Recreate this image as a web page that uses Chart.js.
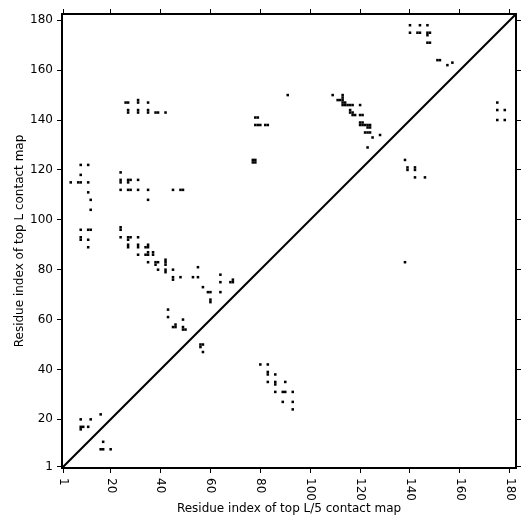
<!DOCTYPE html>
<html>
<head>
<meta charset="utf-8">
<script src="https://cdn.jsdelivr.net/npm/chart.js@4.4.0/dist/chart.umd.min.js"></script>
<style>
  html, body { margin: 0; padding: 0; background: #fff; }
  #wrap { width: 531px; height: 531px; }
</style>
</head>
<body>
<div id="wrap"><canvas id="chart" width="531" height="531"></canvas></div>
<script>
// residue index ticks shown on both axes
const tickValues = [1, 20, 40, 60, 80, 100, 120, 140, 160, 180];
const axisMin = 0.5;
const axisMax = 182.5;

// top L contacts (upper triangle): residue i on x, residue j on y
const topL_i = [
  26, 27, 31, 31, 35, 27, 27, 31, 31, 35, 35, 38, 39, 42,
  8, 11, 8, 4, 7, 8, 11, 11, 12, 12, 8, 11, 12, 8, 8, 11, 11,
  24, 24, 24, 27, 27, 28, 31, 24, 27, 28, 31, 35, 45, 48, 49, 35,
  24, 24, 24, 27, 27, 28, 31, 27, 27, 31, 31, 34, 35, 35,
  31, 34, 35, 35, 37, 37, 35, 38, 38, 39, 42, 42, 42, 42, 42,
  39, 45, 45, 45, 48, 53, 55, 55, 57, 59, 60, 60, 60, 64, 64, 64, 68, 69, 69,
  43, 43, 46, 46, 45, 49, 49, 49, 50,
  8, 12, 16, 8, 8, 9, 11,
  77, 78, 77, 78, 78, 79, 78, 79, 80, 82, 83, 91,
  109, 113, 113, 113, 112, 111, 113, 114, 113, 114, 115, 116, 117, 116, 116, 117, 117, 118,
  120, 120, 121, 120, 121, 120, 121, 122, 123, 124, 123, 124, 122, 123, 124, 125, 128, 123,
  140, 144, 147, 140, 143, 144, 147, 148, 147, 147, 148, 151, 152, 155, 157
];
const topL_j = [
  147, 147, 147, 148, 147, 143, 144, 143, 144, 143, 144, 143, 143, 143,
  122, 122, 118, 115, 115, 115, 115, 111, 108, 104, 96, 96, 96, 92, 93, 92, 89,
  119, 115, 116, 115, 116, 116, 116, 112, 112, 112, 112, 112, 112, 112, 112, 108,
  96, 97, 93, 92, 93, 93, 93, 89, 90, 89, 90, 89, 89, 90,
  86, 86, 86, 87, 86, 87, 83, 82, 83, 83, 82, 83, 84, 79, 80,
  80, 80, 76, 77, 77, 77, 77, 81, 73, 71, 71, 67, 68, 78, 75, 71, 75, 75, 76,
  64, 61, 58, 57, 57, 60, 57, 56, 56,
  20, 20, 22, 16, 17, 17, 17,
  123, 123, 124, 124, 141, 141, 138, 138, 138, 138, 138, 150,
  150, 150, 149, 148, 148, 148, 147, 147, 146, 146, 146, 146, 146, 144, 143, 143, 142, 142,
  146, 142, 142, 139, 139, 138, 138, 138, 138, 138, 137, 137, 135, 135, 135, 133, 134, 129,
  178, 178, 178, 175, 175, 175, 175, 175, 174, 171, 171, 164, 164, 162, 163
];

// top L/5 contacts (lower triangle)
const topL5_i = [
  17, 16, 17, 20,
  56, 57, 56, 57,
  80, 83, 83, 83, 86, 83, 86, 86, 90, 86, 89, 90, 93, 89, 93, 93,
  138, 139, 139, 142, 142, 142, 146, 138,
  175, 175, 178, 175, 178
];
const topL5_j = [
  11, 8, 8, 8,
  50, 50, 49, 47,
  42, 42, 38, 39, 38, 35, 34, 35, 35, 31, 31, 31, 31, 27, 27, 24,
  124, 121, 120, 120, 121, 117, 117, 83,
  147, 144, 144, 140, 140
];

const toPoints = (xs, ys) => xs.map((v, k) => ({ x: v, y: ys[k] }));

const fontFamily = '"DejaVu Sans", sans-serif';

// x tick labels are rotated clockwise, which Chart.js can't do by itself
const xTickLabels = {
  id: 'xTickLabels',
  afterDraw(chart) {
    const { ctx, scales: { x } } = chart;
    ctx.save();
    ctx.font = '12px ' + fontFamily;
    ctx.fillStyle = '#000';
    ctx.textAlign = 'left';
    ctx.textBaseline = 'middle';
    tickValues.forEach(v => {
      const px = x.getPixelForValue(v);
      ctx.save();
      ctx.translate(px, x.top + 10);
      ctx.rotate(Math.PI / 2);
      ctx.fillText(String(v), 0, 0);
      ctx.restore();
    });
    ctx.restore();
  }
};

function setTicks(scale) {
  scale.ticks = tickValues.map(v => ({ value: v }));
}

function axis(position, size, extra) {
  return Object.assign({
    type: 'linear',
    position: position,
    min: axisMin,
    max: axisMax,
    afterBuildTicks: setTicks,
    afterFit(scale) {
      if (scale.isHorizontal()) scale.height = size;
      else scale.width = size;
    },
    ticks: { display: false },
    grid: { drawOnChartArea: false, drawTicks: true, tickLength: 5, color: '#000', lineWidth: 1 },
    border: { display: true, color: '#000', width: 2 }
  }, extra);
}

new Chart(document.getElementById('chart'), {
  type: 'scatter',
  data: {
    datasets: [
      {
        type: 'line',
        data: [{ x: axisMin, y: axisMin }, { x: axisMax, y: axisMax }],
        borderColor: '#000',
        borderWidth: 2,
        pointRadius: 0,
        fill: false
      },
      {
        data: toPoints(topL_i, topL_j),
        pointStyle: 'rect',
        pointRadius: 1.8,
        borderWidth: 0,
        backgroundColor: '#000'
      },
      {
        data: toPoints(topL5_i, topL5_j),
        pointStyle: 'rect',
        pointRadius: 1.8,
        borderWidth: 0,
        backgroundColor: '#000'
      }
    ]
  },
  options: {
    responsive: false,
    animation: false,
    devicePixelRatio: 1,
    layout: { padding: 0 },
    plugins: { legend: { display: false }, tooltip: { enabled: false } },
    scales: {
      x: axis('bottom', 63, {
        title: {
          display: true,
          text: 'Residue index of top L/5 contact map',
          color: '#000',
          font: { family: fontFamily, size: 12 },
          padding: { top: 0, bottom: 15 }
        }
      }),
      x2: axis('top', 14),
      y: axis('left', 62, {
        ticks: { display: true, color: '#000', padding: 4, font: { family: fontFamily, size: 12 } },
        title: {
          display: true,
          text: 'Residue index of top L contact map',
          color: '#000',
          font: { family: fontFamily, size: 12 },
          padding: { top: 13, bottom: 0 }
        }
      }),
      y2: axis('right', 15)
    }
  },
  plugins: [xTickLabels]
});
</script>
</body>
</html>
